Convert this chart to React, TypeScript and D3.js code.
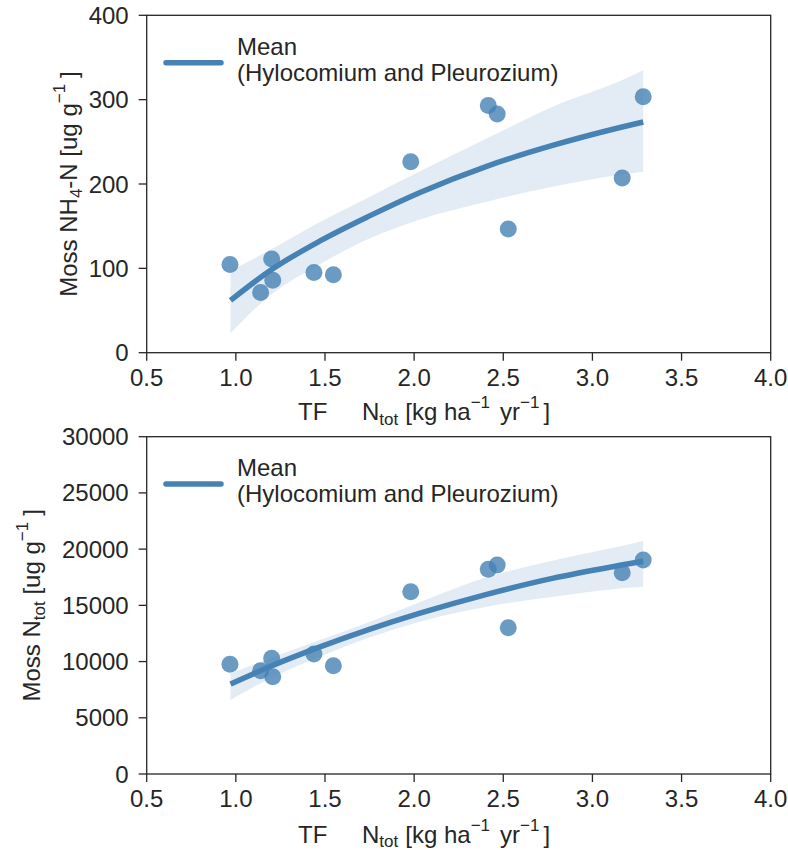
import React from "react";
import * as d3 from "d3";

// ---- data ----
const tfNtot = [0.967, 1.139, 1.201, 1.207, 1.438, 1.547, 1.981, 2.416, 2.466, 2.528, 3.167, 3.285];
const mossNH4 = [104.5, 71.5, 111, 86, 95, 92.5, 226.5, 293, 283, 146.6, 207, 303.5];
const mossNtot = [9757, 9190, 10290, 8656, 10673, 9634, 16215, 18206, 18589, 13012, 17904, 19033];

const fitX = [0.97, 1.193, 1.472, 1.753, 2.033, 2.407, 2.781, 3.155, 3.285];
const nh4Mean = [62, 97.5, 132.5, 162.5, 190, 221, 246, 267, 273.5];
const nh4Upper = [97, 122, 155, 185, 215, 254, 292, 322, 335];
const nh4Lower = [23, 68, 105, 135.6, 158, 179, 197, 211, 214.6];
const ntotMean = [8005, 9560, 11300, 12880, 14300, 15980, 17420, 18560, 18930];
const ntotUpper = [8956, 10290, 11918, 13545, 15300, 17500, 19000, 20250, 20723];
const ntotLower = [6582, 8511, 10432, 12158, 13550, 14880, 15769, 16500, 16659];

const xTicks = [0.5, 1.0, 1.5, 2.0, 2.5, 3.0, 3.5, 4.0];
const nh4Ticks = [0, 100, 200, 300, 400];
const ntotTicks = [0, 5000, 10000, 15000, 20000, 25000, 30000];

const legendLines = ["Mean", "(Hylocomium and Pleurozium)"];

const FONT = "'Liberation Sans', Arial, Helvetica, sans-serif";
const INK = "#262626";
const BLUE = "#4682b4";

const X0 = 146.7;
const X1 = 770.7;

type PanelProps = {
  top: number;
  bottom: number;
  yMax: number;
  yTicks: number[];
  ys: number[];
  mean: number[];
  upper: number[];
  lower: number[];
  yLabelX: number;
  xLabelDy: number;
  subDrop: number;
  yLabel: "nh4" | "ntot";
};

function Panel(p: PanelProps) {
  const x = d3.scaleLinear().domain([0.5, 4.0]).range([X0, X1]);
  const y = d3.scaleLinear().domain([0, p.yMax]).range([p.bottom, p.top]);
  const fit = fitX.map((v, i) => ({ x: v, m: p.mean[i], u: p.upper[i], l: p.lower[i] }));
  const area = d3
    .area<any>()
    .x((d) => x(d.x))
    .y0((d) => y(d.l))
    .y1((d) => y(d.u))
    .curve(d3.curveMonotoneX);
  const line = d3
    .line<any>()
    .x((d) => x(d.x))
    .y((d) => y(d.m))
    .curve(d3.curveMonotoneX);
  const cy = (p.top + p.bottom) / 2;
  const sup = 17;
  return (
    <g>
      <path d={area(fit) || ""} fill={BLUE} fillOpacity={0.15} />
      {tfNtot.map((v, i) => (
        <circle key={i} cx={x(v)} cy={y(p.ys[i])} r={8.5} fill={BLUE} fillOpacity={0.8} />
      ))}
      <path d={line(fit) || ""} fill="none" stroke={BLUE} strokeWidth={5.5} />
      <rect x={X0} y={p.top} width={X1 - X0} height={p.bottom - p.top} fill="none" stroke={INK} strokeWidth={1.3} />
      {xTicks.map((t) => (
        <g key={t}>
          <line x1={x(t)} x2={x(t)} y1={p.bottom} y2={p.bottom + 8} stroke={INK} strokeWidth={1.3} />
          <text x={x(t)} y={p.bottom + 33} textAnchor="middle" fontSize={24} fill={INK} fontFamily={FONT}>
            {d3.format(".1f")(t)}
          </text>
        </g>
      ))}
      {p.yTicks.map((t) => (
        <g key={t}>
          <line x1={X0 - 8} x2={X0} y1={y(t)} y2={y(t)} stroke={INK} strokeWidth={1.3} />
          <text x={X0 - 18} y={y(t) + 8.5} textAnchor="end" fontSize={24} fill={INK} fontFamily={FONT}>
            {t}
          </text>
        </g>
      ))}
      {/* legend */}
      <line x1={166} x2={221} y1={p.top + 47.4} y2={p.top + 47.4} stroke={BLUE} strokeWidth={5.5} strokeLinecap="round" />
      <text x={237} y={p.top + 39.5} fontSize={24} fill={INK} fontFamily={FONT}>
        {legendLines[0]}
      </text>
      <text x={237} y={p.top + 65.5} fontSize={24} fill={INK} fontFamily={FONT}>
        {legendLines[1]}
      </text>
      {/* x label */}
      <text x={298} y={p.bottom + p.xLabelDy} fontSize={24} fill={INK} fontFamily={FONT}>
        <tspan>TF</tspan>
        <tspan dx={34.7}>N</tspan>
        <tspan fontSize={sup} dy={p.subDrop}>tot</tspan>
        <tspan dy={-p.subDrop} dx={7}>[kg ha</tspan>
        <tspan fontSize={sup} dy={-12}>−1</tspan>
        <tspan dy={12} dx={10}>yr</tspan>
        <tspan fontSize={sup} dy={-12}>−1</tspan>
        <tspan dy={12} dx={4}>]</tspan>
      </text>
      {/* y label */}
      <text
        transform={`translate(${p.yLabelX},${cy}) rotate(-90)`}
        textAnchor="middle"
        fontSize={24}
        fill={INK}
        fontFamily={FONT}
      >
        {p.yLabel === "nh4" ? (
          <>
            <tspan>Moss NH</tspan>
            <tspan fontSize={sup} dy={5}>4</tspan>
            <tspan dy={-5}>-N [ug g</tspan>
            <tspan fontSize={sup} dy={-12}>−1</tspan>
            <tspan dy={12} dx={6}>]</tspan>
          </>
        ) : (
          <>
            <tspan>Moss N</tspan>
            <tspan fontSize={sup} dy={5}>tot</tspan>
            <tspan dy={-5}> [ug g</tspan>
            <tspan fontSize={sup} dy={-12}>−1</tspan>
            <tspan dy={12} dx={6}>]</tspan>
          </>
        )}
      </text>
    </g>
  );
}

export default function App() {
  return (
    <svg
      width={788}
      height={850}
      style={{ position: "absolute", left: 0, top: 0, background: "#fff" }}
    >
      <rect x={0} y={0} width={788} height={850} fill="#fff" />
      <Panel
        top={15.3}
        bottom={352.7}
        yMax={400}
        yTicks={nh4Ticks}
        ys={mossNH4}
        mean={nh4Mean}
        upper={nh4Upper}
        lower={nh4Lower}
        yLabelX={77}
        xLabelDy={67.5}
        subDrop={5}
        yLabel="nh4"
      />
      <Panel
        top={436.7}
        bottom={774}
        yMax={30000}
        yTicks={ntotTicks}
        ys={mossNtot}
        mean={ntotMean}
        upper={ntotUpper}
        lower={ntotLower}
        yLabelX={40}
        xLabelDy={69}
        subDrop={3.5}
        yLabel="ntot"
      />
    </svg>
  );
}
